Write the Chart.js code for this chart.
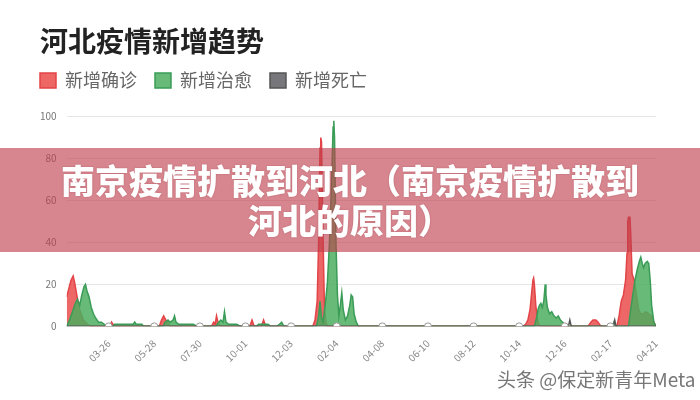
<!DOCTYPE html>
<html>
<head>
<meta charset="utf-8">
<script src="https://cdn.jsdelivr.net/npm/chart.js@4"></script>
<style>
  html, body { margin: 0; padding: 0; background: #fff; }
  #wrap { position: relative; width: 700px; height: 400px; }
  #banner {
    position: absolute; left: 0; top: 148px; width: 700px; height: 104px;
    box-sizing: border-box; padding-top: 12px;
    background: rgba(190, 60, 75, 0.62);
    color: #fff; text-align: center;
    font-family: "Noto Sans CJK SC"; font-weight: 900; font-size: 34px; line-height: 40px;
    text-shadow: 0 0 2px rgba(120, 30, 40, 0.35);
  }
  #mark {
    position: absolute; left: 497px; top: 365px;
    font-family: "Noto Sans CJK SC"; font-size: 19px; color: #777;
    text-shadow: 0 0 2px #fff, 0 0 1px #fff;
  }
</style>
</head>
<body>
<div id="wrap">
  <canvas id="c" width="700" height="400"></canvas>
  <div id="banner">南京疫情扩散到河北（南京疫情扩散到<br>河北的原因）</div>
  <div id="mark">头条 @保定新青年Meta</div>
</div>
<script>
// day 0 = 2020-01-28, one tick label every 63 days
const seriesNames = ["新增确诊", "新增治愈", "新增死亡"];
const tickDays = [58, 121, 184, 247, 310, 373, 436, 499, 562, 625, 688, 751, 814];
const tickLabels = ["03-26", "05-28", "07-30", "10-01", "12-03", "02-04", "04-08",
                    "06-10", "08-12", "10-14", "12-16", "02-17", "04-21"];

// [day, value]
const confirmed = [
  [0,14],[3,18],[6,22],[9,24],[11,21],[14,15],[17,9],[20,6],[23,3],[26,2],[29,1],[33,0],
  [60,0],[62,2],[64,1],[67,0],
  [128,0],[131,3],[134,5],[137,3],[140,2],[143,0],
  [200,0],[203,2],[205,1],[207,5],[209,2],[212,0],
  [253,0],[256,3],[259,0],[269,0],[272,3],[275,0],
  [340,0],[343,3],[346,12],[348,40],[350,85],[351,90],[352,88],[354,45],[356,10],[358,2],[360,0],
  [630,0],[634,1],[637,3],[640,8],[642,15],[644,22],[645,23],[646,20],[648,10],[650,4],[652,1],[654,0],
  [720,0],[724,2],[727,3],[731,3],[734,2],[738,0],
  [760,0],[763,5],[766,12],[769,15],[772,22],[774,35],[775,50],[776,52],[778,52],[779,45],
  [781,25],[784,22],[787,15],[790,8],[793,6],[797,6],[800,7],[804,6],[808,5],[811,2],[814,0]
];
const cured = [
  [0,0],[4,3],[8,7],[12,11],[15,13],[18,10],[21,15],[24,19],[26,20],[28,17],[31,14],[34,9],
  [37,6],[40,4],[44,2],[48,2],[52,1],[56,0],
  [64,0],[66,1],[80,1],[92,1],[94,2],[96,1],[104,1],[106,0],
  [133,0],[136,2],[140,3],[143,2],[147,3],[149,5],[151,2],[155,1],[165,1],[175,1],[180,0],
  [206,0],[210,2],[213,3],[216,2],[218,7],[220,2],[224,1],[235,1],[240,0],
  [262,0],[265,1],[278,1],[282,0],[290,0],[294,1],[297,2],[300,0],
  [345,0],[348,5],[350,12],[352,4],[354,2],[357,10],[360,20],[363,40],[366,70],[368,95],
  [369,98],[370,90],[372,40],[374,15],[376,5],[378,10],[380,16],[382,8],[385,3],[388,5],
  [391,10],[393,15],[395,14],[397,6],[400,2],[403,0],
  [646,0],[649,4],[651,8],[653,10],[655,11],[657,9],[659,12],[661,20],[662,15],[664,9],
  [667,6],[670,7],[673,5],[676,4],[679,5],[682,3],[685,2],[688,1],[691,0],
  [754,0],[756,2],[758,0],
  [776,0],[779,8],[782,15],[785,22],[788,27],[791,31],[793,33],[795,30],[797,28],[799,30],
  [802,31],[804,30],[806,22],[808,10],[811,2],[814,0]
];
const deaths = [
  [0,0],[58,0],[121,0],[184,0],[247,0],[310,0],[373,0],[436,0],[499,0],[562,0],[625,0],
  [688,0],[693,0],[695,3],[697,0],[751,0],[755,0],[757,3],[759,0],[814,0]
];

const toXY = arr => arr.map(([x, y]) => ({ x, y }));
const markedDays = tickDays.slice(0, -1);

Chart.defaults.font.family = '"Noto Sans CJK SC", "DejaVu Sans", sans-serif';

// move title / legend boxes a bit after layout, chart area stays put
const nudge = {
  id: "nudge",
  afterLayout(chart) {
    const t = chart.titleBlock, l = chart.legend;
    t.left += 10; t.right += 10;
    l.left -= 8; l.right -= 8; l.top -= 17; l.bottom -= 17;
  },
};

new Chart(document.getElementById("c"), {
  type: "line",
  data: {
    datasets: [
      {
        label: seriesNames[0],
        data: toXY(confirmed),
        borderColor: "#e24447",
        backgroundColor: "rgba(234,76,76,0.85)",
        fill: "origin",
        borderWidth: 1.5,
        pointRadius: 0,
        order: 2,
      },
      {
        label: seriesNames[1],
        data: toXY(cured),
        borderColor: "#3a9c57",
        backgroundColor: "rgba(76,174,95,0.85)",
        fill: "origin",
        borderWidth: 1.5,
        pointRadius: 0,
        order: 1,
      },
      {
        label: seriesNames[2],
        data: toXY(deaths),
        borderColor: "#555",
        backgroundColor: "#77777b",
        fill: false,
        borderWidth: 1.5,
        pointRadius: ctx => (ctx.raw && ctx.raw.y === 0 && markedDays.includes(ctx.raw.x)) ? 3.5 : 0,
        pointBackgroundColor: "#fff",
        pointBorderColor: "#999",
        pointBorderWidth: 1,
        order: 0,
      },
    ],
  },
  options: {
    responsive: false,
    animation: false,
    layout: { padding: { left: 30, right: 44, top: 25, bottom: 33 } },
    plugins: {
      title: {
        display: true,
        text: "河北疫情新增趋势",
        align: "start",
        color: "#222",
        font: { size: 28, weight: "bold" },
        padding: { top: 0, bottom: 12 },
      },
      legend: {
        align: "start",
        labels: {
          boxWidth: 16,
          boxHeight: 15,
          color: "#666",
          font: { size: 18 },
          padding: 18,
          sort: (a, b) => a.datasetIndex - b.datasetIndex,
        },
      },
      tooltip: { enabled: false },
    },
    scales: {
      x: {
        type: "linear",
        min: 0,
        max: 814,
        afterBuildTicks: axis => { axis.ticks = tickDays.map(v => ({ value: v })); },
        ticks: {
          autoSkip: false,
          minRotation: 45,
          maxRotation: 45,
          color: "#888",
          font: { size: 10 },
          callback: v => tickLabels[tickDays.indexOf(v)],
        },
        grid: { display: false },
        border: { display: false },
      },
      y: {
        min: 0,
        max: 100,
        ticks: { stepSize: 20, color: "#777", font: { size: 10 }, padding: 10 },
        grid: { color: "#e6e6e6", drawTicks: false },
        border: { display: false },
      },
    },
  },
  plugins: [nudge],
});
</script>
</body>
</html>
